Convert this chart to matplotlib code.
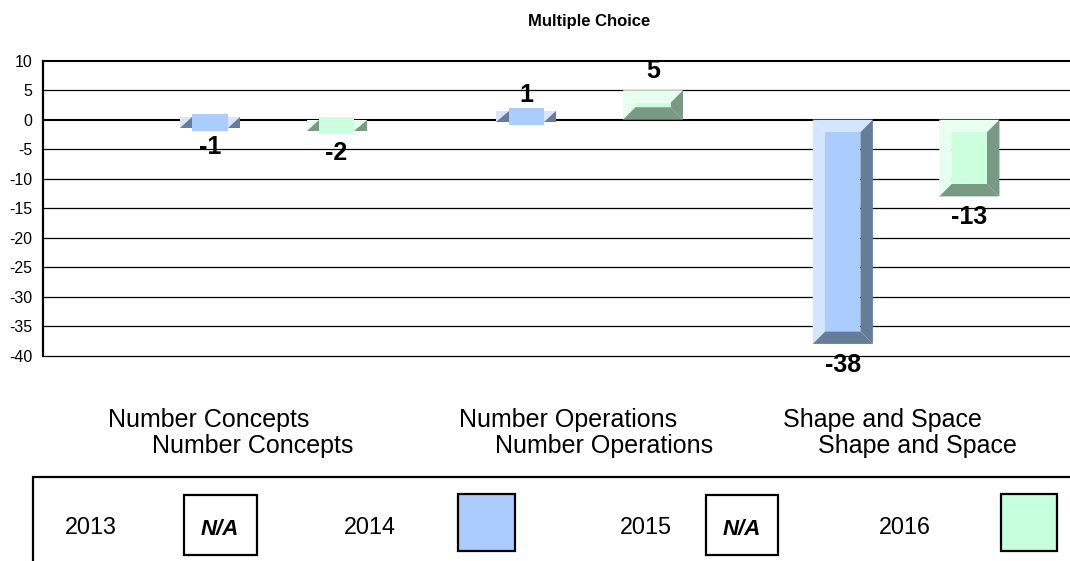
import numpy as np
import matplotlib
matplotlib.use("Agg")
import matplotlib.pyplot as plt
from matplotlib.patches import Polygon, Rectangle
from matplotlib import transforms

plt.rcParams['font.family'] = ['Liberation Sans', 'DejaVu Sans']

# data
categories = ["Number Concepts", "Number Operations", "Shape and Space"]
years = ["2013", "2014", "2015", "2016"]
vals_2014 = [-1, 1, -38]
vals_2016 = [-2, 5, -13]
has_data = [False, True, False, True]   # 2013 and 2015 are N/A
yticks = list(range(-40, 11, 5))

# colours: face, light bevel, dark bevel
col_2014 = ("#aaccff", "#d4e5ff", "#667c99")
col_2016 = ("#ccffdd", "#e6fff0", "#7a9985")

W, H = 1070, 561
fig = plt.figure(figsize=(W / 100, H / 100), dpi=100)

ax_l, ax_r, ax_t, ax_b = 43.3, 1070, 60.7, 355.7
ax = fig.add_axes([ax_l / W, 1 - ax_b / H, (ax_r - ax_l) / W, (ax_b - ax_t) / H])
ax.set_ylim(-40, 10)
ax.set_xlim(-0.627, 2.618)

# bevel size in data units (~12.5 px)
BX = 12.5 / 316.5
BY = 12.5 / 5.9
bar_w = 0.19
slot = [-0.3, -0.1, 0.1, 0.3]


def bevel_bar(ax, xc, v, w, face, light, dark):
    x0, x1 = xc - w / 2, xc + w / 2
    lo, hi = min(0, v), max(0, v)
    if hi - lo >= 2 * BY:
        polys = [
            ([(x0, hi), (x1, hi), (x1 - BX, hi - BY), (x0 + BX, hi - BY)], light),
            ([(x0, lo), (x0, hi), (x0 + BX, hi - BY), (x0 + BX, lo + BY)], light),
            ([(x1, hi), (x1, lo), (x1 - BX, lo + BY), (x1 - BX, hi - BY)], dark),
            ([(x0, lo), (x1, lo), (x1 - BX, lo + BY), (x0 + BX, lo + BY)], dark),
            ([(x0 + BX, lo + BY), (x1 - BX, lo + BY), (x1 - BX, hi - BY), (x0 + BX, hi - BY)], face),
        ]
    else:
        # bar too short for the bevel: squeezed look
        mid = (lo + hi) / 2
        s0, s1 = mid - 0.45 * BY, mid + 0.45 * BY
        f0, f1 = mid - 0.67 * BY, mid + 0.67 * BY
        polys = [
            ([(x0, s0), (x0 + BX, s0), (x0 + BX, s1), (x0, s1)], light),
            ([(x0, s0), (x0 + BX, s0), (x0 + BX, s1)], dark),
            ([(x1 - BX, s0), (x1, s0), (x1, s1), (x1 - BX, s1)], light),
            ([(x1 - BX, s0), (x1, s0), (x1, s1)], dark),
            ([(x0 + BX, f0), (x1 - BX, f0), (x1 - BX, f1), (x0 + BX, f1)], face),
        ]
    for pts, c in polys:
        ax.add_patch(Polygon(pts, closed=True, facecolor=c, edgecolor='none', lw=0, zorder=3))


for t in yticks:
    lw = 1.5 if t in (10, 0) else 0.9
    ax.axhline(t, color='black', lw=lw, zorder=1, clip_on=False)

for i in range(len(categories)):
    for vals, cols, s in ((vals_2014, col_2014, 1), (vals_2016, col_2016, 3)):
        xc = i + slot[s]
        v = vals[i]
        bevel_bar(ax, xc, v, bar_w, *cols)
        off = -20.2 if v < 0 else 8.6
        ax.annotate(str(v), (xc, v), xytext=(0, off), textcoords='offset points',
                    ha='center', va='baseline', fontsize=18, fontweight='bold', zorder=4)

for sp in ('top', 'right', 'bottom'):
    ax.spines[sp].set_visible(False)
ax.spines['left'].set_linewidth(1.6)
ax.set_yticks(yticks)
ax.set_yticklabels([str(t) for t in yticks])
ax.set_xticks([])
ax.tick_params(axis='y', length=0, pad=8, labelsize=11.5)

fig.text(589 / W, 1 - 26 / H, "Multiple Choice", ha='center', va='baseline',
         fontsize=12, fontweight='bold')

# category labels, drawn twice with an offset like the original
tr = transforms.blended_transform_factory(ax.transData, fig.transFigure)
lab1_x = [-0.103, 1.031, 2.025]
lab2_x = [0.036, 1.145, 2.137]
for i, c in enumerate(categories):
    ax.text(lab1_x[i], 1 - 427 / H, c, transform=tr, ha='center', va='baseline',
            fontsize=18, clip_on=False)
    ax.text(lab2_x[i], 1 - 453 / H, c, transform=tr, ha='center', va='baseline',
            fontsize=18, clip_on=False)

# legend box
fig.add_artist(Rectangle((32.5 / W, 1 - 600 / H), (1100 - 32.5) / W, (600 - 477) / H,
                         transform=fig.transFigure, fill=False, edgecolor='black', lw=1.6))
txt_x = [91, 370, 646, 905]
sw_x = [(183.5, 256.5), (458, 515), (705.6, 778), (1000.7, 1057)]
swatch_cols = [None, col_2014[0], None, "#c6ffdc"]
for k, yr in enumerate(years):
    fig.text(txt_x[k] / W, 1 - 534 / H, yr, ha='center', va='baseline', fontsize=16.8)
    xa, xb = sw_x[k]
    if has_data[k]:
        ya, yb = 494, 550.5
        fig.add_artist(Rectangle((xa / W, 1 - yb / H), (xb - xa) / W, (yb - ya) / H,
                                 transform=fig.transFigure, facecolor=swatch_cols[k],
                                 edgecolor='black', lw=1.6))
    else:
        ya, yb = 495, 555
        fig.add_artist(Rectangle((xa / W, 1 - yb / H), (xb - xa) / W, (yb - ya) / H,
                                 transform=fig.transFigure, facecolor='white',
                                 edgecolor='black', lw=1.6))
        fig.text((xa + xb) / 2 / W, 1 - 535 / H, "N/A", ha='center', va='baseline',
                 fontsize=16, fontweight='bold', fontstyle='italic')

fig.savefig("out.png", dpi=100)
